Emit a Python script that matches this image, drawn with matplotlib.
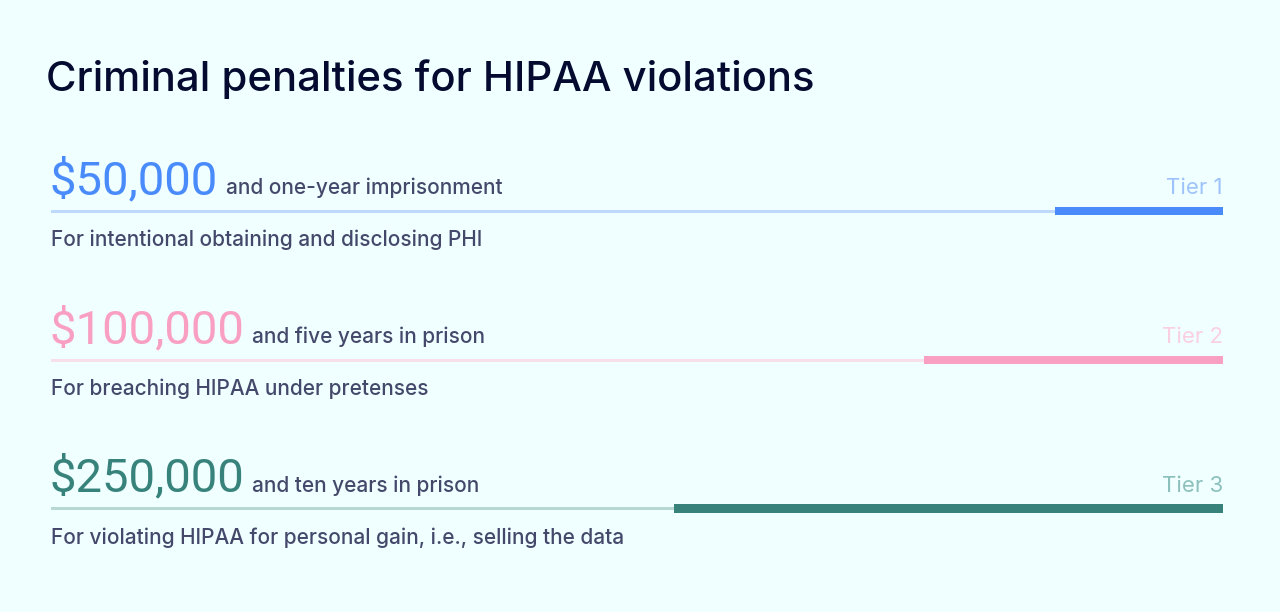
import matplotlib.pyplot as plt

# =========================
# DATOS
# =========================
title = "Criminal penalties for HIPAA violations"
amounts = ["$50,000", "$100,000", "$250,000"]
penalties = ["and one-year imprisonment", "and five years in prison", "and ten years in prison"]
reasons = [
    "For intentional obtaining and disclosing PHI",
    "For breaching HIPAA under pretenses",
    "For violating HIPAA for personal gain, i.e., selling the data",
]
tiers = ["Tier 1", "Tier 2", "Tier 3"]
bar_share = [14.3, 25.5, 46.85]  # % of the track filled

# =========================
# ESTILO
# =========================
BG = "#f0ffff"
DARK = "#050a30"
TEXT = "#44496b"
MAIN = ["#4a8bfc", "#f9a0c2", "#37837c"]
TRACK = ["#bddafc", "#f8dfea", "#b8d8d6"]
TIER = ["#9fc3fb", "#fad0e1", "#8cc0bc"]
row_y = [211, 360, 508.5]
sub_x = [226, 252, 252]
W, H = 1280, 612

plt.rcParams["font.family"] = ["Inter", "DejaVu Sans"]

fig = plt.figure(figsize=(W / 100, H / 100), dpi=100, facecolor=BG)
ax = fig.add_axes([51 / W, 0, (1223 - 51) / W, 1])
ax.set_xlim(0, 100)
ax.set_ylim(H, 0)
ax.axis("off")
px = 100 / (1223 - 51)  # data units per pixel in x


def x_of(pixel):
    return (pixel - 51) * px


ax.text(x_of(46), 79.5, title, fontsize=30.1, fontweight="medium", color=DARK, va="center", clip_on=False)

for i in range(3):
    y = row_y[i]
    ax.barh(y, 100, height=3, color=TRACK[i], linewidth=0)
    ax.barh(y, bar_share[i], left=100 - bar_share[i], height=8.5, color=MAIN[i], linewidth=0)
    ax.text(x_of(50), y - 17, amounts[i], fontsize=34, family="Roboto", color=MAIN[i], va="baseline")
    ax.text(x_of(sub_x[i]), y - 17, penalties[i], fontsize=15, fontweight="medium", color=TEXT, va="baseline")
    ax.text(100, y - 17, tiers[i], fontsize=16, color=TIER[i], va="baseline", ha="right")
    ax.text(0, y + 35, reasons[i], fontsize=15, fontweight="medium", color=TEXT, va="baseline")

fig.savefig("out.png", dpi=100, facecolor=BG)
